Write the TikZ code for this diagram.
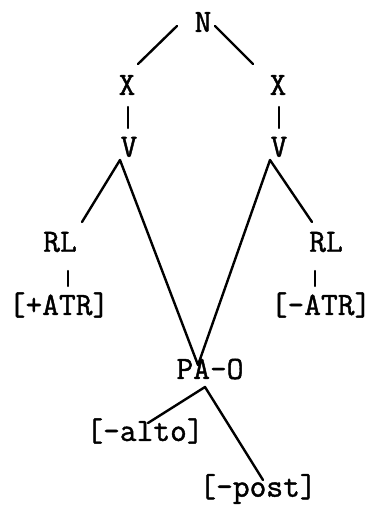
\documentclass[tikz,border=0pt]{standalone}
\usepackage{fontspec}
\newfontfamily\treefont[FakeBold=1.3]{Latin Modern Mono}
\tikzset{
  every picture/.style={line join=round, line cap=round},
  lbl/.style={font=\treefont\fontsize{32.5}{34}\selectfont, inner sep=0pt},
  branch/.style={line width=2.4pt},
}
\begin{document}
\begin{tikzpicture}[x=1pt,y=-1pt]
\useasboundingbox (0,0) rectangle (372,506);
% labels
\node[lbl] (N) at (203,22) {N};
\node[lbl] (Xl) at (127,85) {X};
\node[lbl] (Xr) at (278,85) {X};
\node[lbl] (Vl) at (129,147) {V};
\node[lbl] (Vr) at (279,147) {V};
\node[lbl] (RLl) at (60,242) {RL};
\node[lbl] (RLr) at (326,242) {RL};
\node[lbl] (ATRp) at (59,305) {[+ATR]};
\node[lbl] (ATRm) at (321,305) {[-ATR]};
\node[lbl] (PAO) at (210,369) {PA-O};
\node[lbl] (alto) at (145,431) {[-alto]};
\node[lbl] (post) at (258,489) {[-post]};
% line ends
\coordinate (N-l) at (177,26);  \coordinate (Xl-t) at (138,64);
\coordinate (N-r) at (215,26);  \coordinate (Xr-t) at (253,64);
\coordinate (Xl-b) at (128,107); \coordinate (Vl-t) at (128,128);
\coordinate (Xr-b) at (279,107); \coordinate (Vr-t) at (279,128);
\coordinate (Vl-b) at (120,160); \coordinate (Vr-b) at (270,160);
\coordinate (RLl-t) at (82,222); \coordinate (RLr-t) at (312,222);
\coordinate (PAO-t) at (198,365);
\coordinate (RLl-b) at (68,271); \coordinate (ATRp-t) at (68,286);
\coordinate (RLr-b) at (315,271); \coordinate (ATRm-t) at (315,286);
\coordinate (PAO-b) at (205,387);
\coordinate (alto-t) at (148,423); \coordinate (post-t) at (263,480);
% branches
\draw[branch] (N-l) -- (Xl-t);
\draw[branch] (N-r) -- (Xr-t);
\draw[branch] (Xl-b) -- (Vl-t);
\draw[branch] (Xr-b) -- (Vr-t);
\draw[branch] (RLl-t) -- (Vl-b) -- (PAO-t);
\draw[branch] (RLr-t) -- (Vr-b) -- (PAO-t);
\draw[branch] (RLl-b) -- (ATRp-t);
\draw[branch] (RLr-b) -- (ATRm-t);
\draw[branch] (alto-t) -- (PAO-b) -- (post-t);
\end{tikzpicture}
\end{document}
